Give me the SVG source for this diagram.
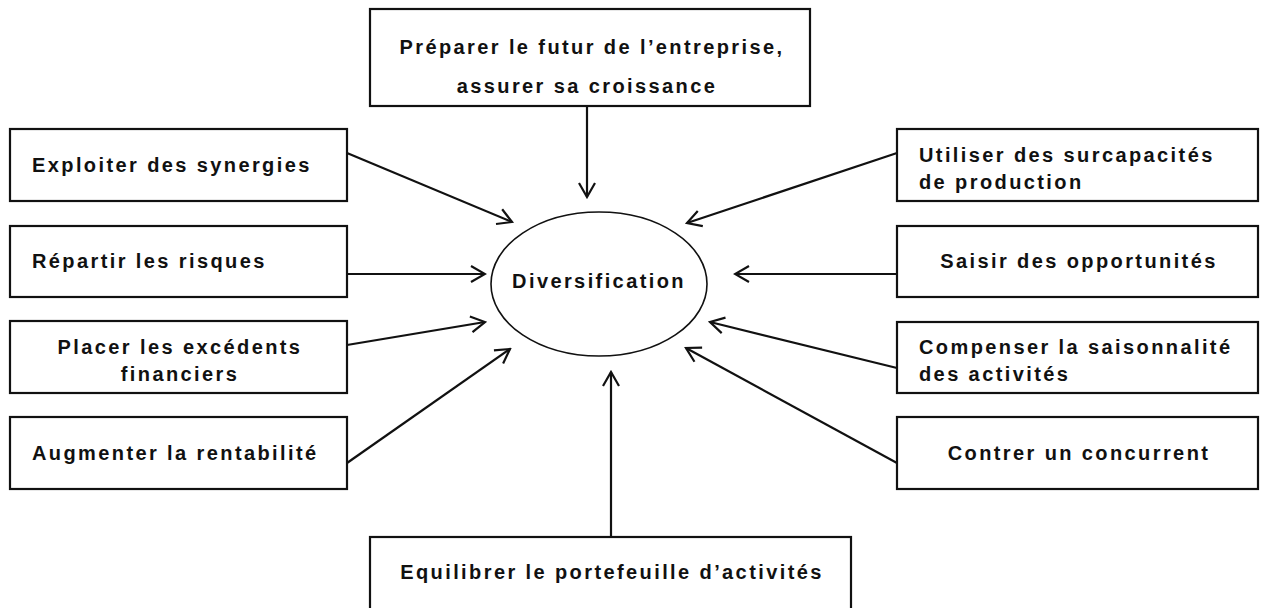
<svg xmlns="http://www.w3.org/2000/svg" width="1262" height="608" viewBox="0 0 1262 608">
<style>
.box{fill:#fff;stroke:#111;stroke-width:2.2}
.t{font-family:"Liberation Sans",Arial,sans-serif;font-weight:bold;font-size:20px;letter-spacing:2.4px;fill:#111}
.c{text-anchor:middle}
.ln{stroke:#111;stroke-width:2.2;fill:none;marker-end:url(#arr)}
</style>
<defs>
<marker id="arr" viewBox="0 0 20 20" refX="18" refY="10" markerWidth="20" markerHeight="20" markerUnits="userSpaceOnUse" orient="auto">
<path d="M4,2 L18,10 L4,18" fill="none" stroke="#111" stroke-width="2.2"/>
</marker>
</defs>
<rect width="1262" height="608" fill="#fff"/>
<g id="connectors">
<line class="ln" x1="587" y1="106" x2="587" y2="197"/>
<line class="ln" x1="611" y1="537" x2="611" y2="372"/>
<line class="ln" x1="347" y1="153" x2="512" y2="222"/>
<line class="ln" x1="347" y1="274" x2="485" y2="274"/>
<line class="ln" x1="347" y1="345" x2="485" y2="322"/>
<line class="ln" x1="347" y1="463" x2="510" y2="349"/>
<line class="ln" x1="897" y1="153" x2="687" y2="223"/>
<line class="ln" x1="897" y1="274" x2="735" y2="274"/>
<line class="ln" x1="897" y1="368" x2="710" y2="322"/>
<line class="ln" x1="897" y1="463" x2="686" y2="348"/>
</g>
<g id="center">
<ellipse cx="599" cy="284" rx="108" ry="72" fill="#fff" stroke="#111" stroke-width="1.6"/>
<text class="t c" x="599" y="288">Diversification</text>
</g>
<g id="top">
<rect class="box" x="370" y="9" width="440" height="97"/>
<text class="t c" x="592" y="54">Préparer le futur de l’entreprise,</text>
<text class="t c" x="587" y="93">assurer sa croissance</text>
</g>
<g id="bottom">
<rect class="box" x="370" y="537" width="481" height="90"/>
<text class="t c" x="612" y="579">Equilibrer le portefeuille d’activités</text>
</g>
<g id="l1">
<rect class="box" x="10" y="129" width="337" height="72"/>
<text class="t" x="32" y="172">Exploiter des synergies</text>
</g>
<g id="l2">
<rect class="box" x="10" y="226" width="337" height="71"/>
<text class="t" x="32" y="268">Répartir les risques</text>
</g>
<g id="l3">
<rect class="box" x="10" y="321" width="337" height="72"/>
<text class="t c" x="180" y="354">Placer les excédents</text>
<text class="t c" x="180" y="381">financiers</text>
</g>
<g id="l4">
<rect class="box" x="10" y="417" width="337" height="72"/>
<text class="t" x="32" y="460">Augmenter la rentabilité</text>
</g>
<g id="r1">
<rect class="box" x="897" y="129" width="361" height="72"/>
<text class="t" x="919" y="162">Utiliser des surcapacités</text>
<text class="t" x="919" y="189">de production</text>
</g>
<g id="r2">
<rect class="box" x="897" y="226" width="361" height="71"/>
<text class="t c" x="1079" y="268">Saisir des opportunités</text>
</g>
<g id="r3">
<rect class="box" x="897" y="322" width="361" height="71"/>
<text class="t" x="919" y="354">Compenser la saisonnalité</text>
<text class="t" x="919" y="381">des activités</text>
</g>
<g id="r4">
<rect class="box" x="897" y="417" width="361" height="72"/>
<text class="t c" x="1079" y="460">Contrer un concurrent</text>
</g>
</svg>
